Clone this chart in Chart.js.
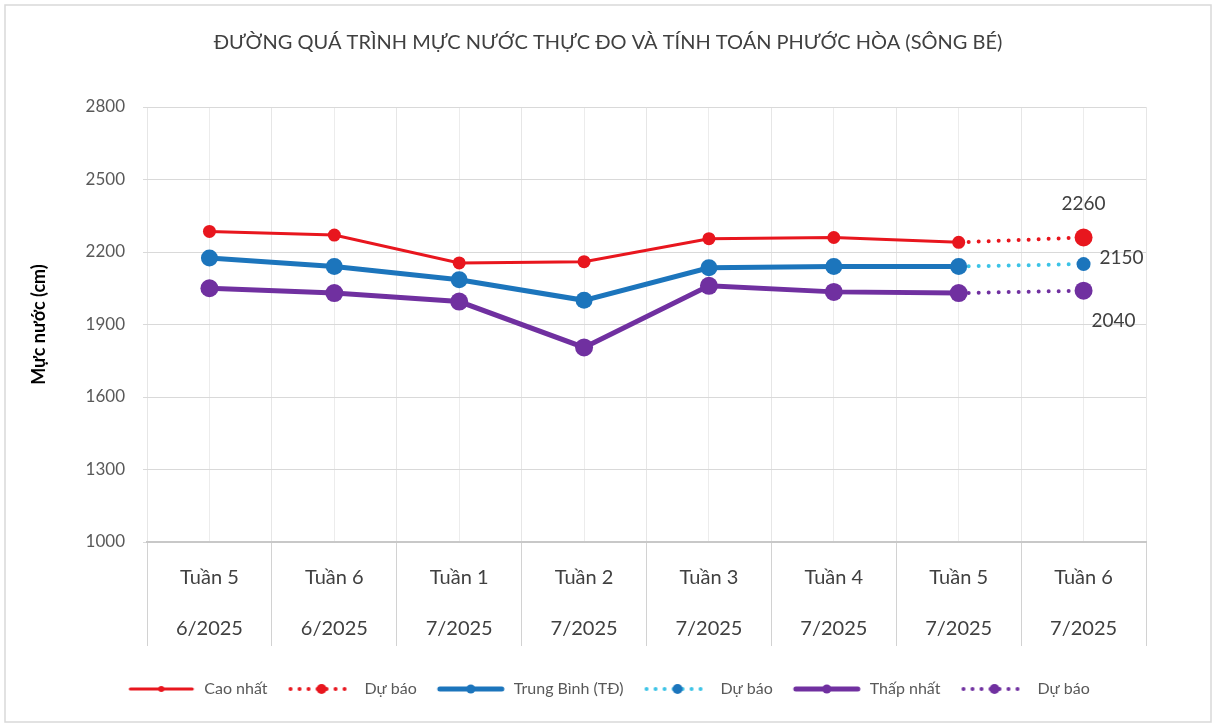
<!DOCTYPE html>
<html>
<head>
<meta charset="utf-8">
<script src="https://cdn.jsdelivr.net/npm/chart.js@4"></script>
<style>
  html, body { margin: 0; padding: 0; background: #fff; }
  #wrap { width: 1216px; height: 727px; position: relative; }
</style>
</head>
<body>
<div id="wrap"><canvas id="chart"></canvas></div>
<script>
// data
const weeks = [
  ["Tuần 5", "6/2025"], ["Tuần 6", "6/2025"], ["Tuần 1", "7/2025"], ["Tuần 2", "7/2025"],
  ["Tuần 3", "7/2025"], ["Tuần 4", "7/2025"], ["Tuần 5", "7/2025"], ["Tuần 6", "7/2025"]
];
const caoNhat       = [2285, 2270, 2155, 2160, 2255, 2260, 2240, null];
const caoNhatDuBao  = [null, null, null, null, null, null, 2240, 2260];
const trungBinh     = [2175, 2140, 2085, 2000, 2135, 2140, 2140, null];
const trungBinhDuBao = [null, null, null, null, null, null, 2140, 2150];
const thapNhat      = [2050, 2030, 1995, 1805, 2060, 2035, 2030, null];
const thapNhatDuBao = [null, null, null, null, null, null, 2030, 2040];
const yTicks = [1000, 1300, 1600, 1900, 2200, 2500, 2800];

const RED = '#e8161e';
const BLUE = '#1c75bc';
const CYAN = '#3cc3e6';
const PURPLE = '#7030a0';

Chart.defaults.font.family = 'Lato, "Open Sans", sans-serif';

// legend swatches: a line with a marker in the middle
function sample(lineColor, markColor, lw, r, dotted) {
  const c = document.createElement('canvas');
  c.width = 70; c.height = 16;
  const g = c.getContext('2d');
  g.strokeStyle = lineColor;
  g.lineWidth = lw;
  g.lineCap = 'round';
  if (dotted) g.setLineDash([0, 9]);
  g.beginPath(); g.moveTo(4, 8); g.lineTo(66, 8); g.stroke();
  g.setLineDash([]);
  g.fillStyle = markColor;
  g.beginPath(); g.arc(35, 8, r, 0, Math.PI * 2); g.fill();
  return c;
}
const swatches = [
  sample(RED, RED, 3, 3, false),
  sample(RED, RED, 4, 5, true),
  sample(BLUE, BLUE, 5, 4.5, false),
  sample(CYAN, BLUE, 4, 5, true),
  sample(PURPLE, PURPLE, 5, 4.5, false),
  sample(PURPLE, PURPLE, 4, 5, true)
];

const lastOnly = (r) => (ctx) => ctx.dataIndex === weeks.length - 1 ? r : 0;

// numbers next to the forecast points
const forecastLabels = [
  { ds: 1, dx: 0, dy: -34, align: 'center' },
  { ds: 3, dx: 16, dy: -6, align: 'left' },
  { ds: 5, dx: 30, dy: 30, align: 'center' }
];

const extras = {
  id: 'extras',
  beforeDraw(chart) {
    const ctx = chart.ctx;
    ctx.save();
    ctx.fillStyle = '#fff';
    ctx.fillRect(0, 0, chart.width, chart.height);
    ctx.strokeStyle = '#d9d9d9';
    ctx.lineWidth = 1.5;
    ctx.strokeRect(5, 5, chart.width - 10, chart.height - 10);
    ctx.restore();
  },
  afterDatasetsDraw(chart) {
    const ctx = chart.ctx;
    ctx.save();
    ctx.font = '19px Lato, "Open Sans", sans-serif';
    ctx.fillStyle = '#404040';
    ctx.textBaseline = 'middle';
    forecastLabels.forEach(l => {
      const i = weeks.length - 1;
      const pt = chart.getDatasetMeta(l.ds).data[i];
      ctx.textAlign = l.align;
      ctx.fillText(String(chart.data.datasets[l.ds].data[i]), pt.x + l.dx, pt.y + l.dy);
    });
    ctx.restore();
  }
};

new Chart(document.getElementById('chart'), {
  type: 'line',
  data: {
    labels: weeks,
    datasets: [
      { label: 'Cao nhất', data: caoNhat, borderColor: RED, backgroundColor: RED,
        borderWidth: 3, pointRadius: 6.5, pointHoverRadius: 7, pointBorderWidth: 0 },
      { label: 'Dự báo', data: caoNhatDuBao, borderColor: RED, backgroundColor: RED,
        borderWidth: 4, borderDash: [0, 10], borderCapStyle: 'round',
        pointRadius: lastOnly(9), pointBorderWidth: 0 },
      { label: 'Trung Bình (TĐ)', data: trungBinh, borderColor: BLUE, backgroundColor: BLUE,
        borderWidth: 5, pointRadius: 8.5, pointHoverRadius: 9, pointBorderWidth: 0 },
      { label: 'Dự báo', data: trungBinhDuBao, borderColor: CYAN, backgroundColor: BLUE,
        borderWidth: 4, borderDash: [0, 10], borderCapStyle: 'round',
        pointRadius: lastOnly(7), pointBorderWidth: 0 },
      { label: 'Thấp nhất', data: thapNhat, borderColor: PURPLE, backgroundColor: PURPLE,
        borderWidth: 5, pointRadius: 9, pointHoverRadius: 9, pointBorderWidth: 0 },
      { label: 'Dự báo', data: thapNhatDuBao, borderColor: PURPLE, backgroundColor: PURPLE,
        borderWidth: 4, borderDash: [0, 10], borderCapStyle: 'round',
        pointRadius: lastOnly(9), pointBorderWidth: 0 }
    ]
  },
  options: {
    responsive: true,
    maintainAspectRatio: false,
    animation: false,
    layout: { padding: { left: 28, right: 28, top: 0, bottom: 20 } },
    scales: {
      x: {
        offset: true,
        grid: { offset: true, color: '#e6e6e6', tickColor: '#d2d2d2', tickLength: 104 },
        border: { color: '#c8c8c8', width: 2 },
        ticks: {
          padding: -94, color: '#404040', maxRotation: 0, autoSkip: false,
          font: { size: 20, lineHeight: 2.55 }
        },
        afterFit: (s) => { s.height = 120; }
      },
      x2: {
        type: 'category', position: 'bottom', offset: true,
        grid: { offset: false, color: '#ececec', drawTicks: false },
        border: { display: false },
        ticks: { display: false }
      },
      y: {
        min: 1000, max: 2800,
        afterBuildTicks: (s) => { s.ticks = yTicks.map(v => ({ value: v })); },
        grid: { color: '#d9d9d9', tickLength: 4 },
        border: { display: false },
        ticks: { padding: 18, color: '#595959', font: { size: 17 }, callback: (v) => String(v) },
        title: { display: true, text: 'Mực nước (cm)', color: '#000', padding: 0,
                 font: { size: 18, weight: 'bold' } },
        afterFit: (s) => { s.width = 119; }
      },
      // empty right-hand box so the plot ends where the reference does
      yRight: {
        position: 'right',
        grid: { drawOnChartArea: false, drawTicks: false },
        border: { display: false },
        ticks: { display: false },
        afterFit: (s) => { s.width = 42; }
      }
    },
    plugins: {
      title: {
        display: true,
        text: 'ĐƯỜNG QUÁ TRÌNH MỰC NƯỚC THỰC ĐO VÀ TÍNH TOÁN PHƯỚC HÒA (SÔNG BÉ)',
        color: '#404040',
        font: { size: 20, weight: 'normal' },
        padding: { top: 31, bottom: 52 }
      },
      legend: {
        position: 'bottom',
        labels: {
          usePointStyle: true,
          pointStyleWidth: 70,
          boxHeight: 16,
          padding: 19,
          color: '#595959',
          font: { size: 16 },
          generateLabels: (chart) => {
            const items = Chart.defaults.plugins.legend.labels.generateLabels(chart);
            items.forEach((it, i) => { it.pointStyle = swatches[i]; });
            return items;
          }
        }
      },
      tooltip: { enabled: false }
    }
  },
  plugins: [extras]
});
</script>
</body>
</html>
